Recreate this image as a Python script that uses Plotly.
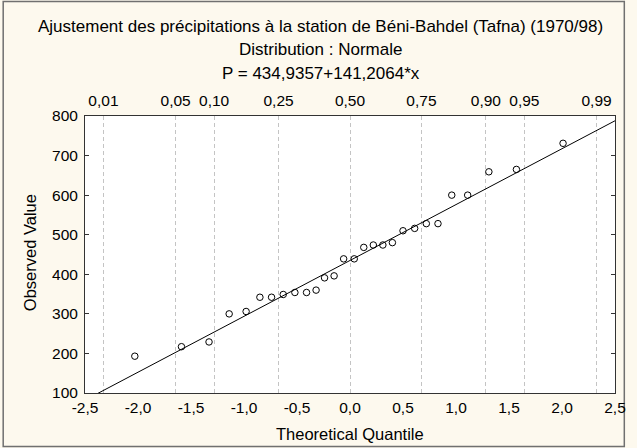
import plotly.graph_objects as go

# Data
theoretical_quantile = [-2.03, -1.59, -1.33, -1.14, -0.98, -0.85, -0.74, -0.63, -0.52, -0.41,
                        -0.32, -0.24, -0.15, -0.06, 0.04, 0.13, 0.22, 0.31, 0.40, 0.50,
                        0.61, 0.72, 0.83, 0.96, 1.11, 1.31, 1.57, 2.01]
observed_value = [193, 217, 229, 300, 306, 342, 342, 349, 354, 354,
                  360, 391, 396, 439, 439, 468, 474, 474, 480, 510,
                  516, 528, 528, 600, 600, 659, 665, 731]

intercept = 434.9357
slope = 141.2064

x_tickvals = [-2.5, -2.0, -1.5, -1.0, -0.5, 0.0, 0.5, 1.0, 1.5, 2.0, 2.5]
x_ticktext = ["-2,5", "-2,0", "-1,5", "-1,0", "-0,5", "0,0", "0,5", "1,0", "1,5", "2,0", "2,5"]
y_tickvals = [100, 200, 300, 400, 500, 600, 700, 800]
prob_labels = ["0,01", "0,05", "0,10", "0,25", "0,50", "0,75", "0,90", "0,95", "0,99"]
prob_quantiles = [-2.326, -1.645, -1.282, -0.674, 0.0, 0.674, 1.282, 1.645, 2.326]

title_lines = ["Ajustement des précipitations à la station de Béni-Bahdel (Tafna) (1970/98)",
               "Distribution : Normale",
               "P = 434,9357+141,2064*x"]

W, H = 637, 448
L, R, T, B = 85, 11, 116, 55
pw, ph = W - L - R, H - T - B

FONT = "Liberation Sans, Arial, sans-serif"


def px_x(p):
    return (p - L) / pw


def px_y(p):
    return 1 + (T - p) / ph


fig = go.Figure()

line_x = [x_tickvals[0], x_tickvals[-1]]
line_y = [intercept + slope * v for v in line_x]
fig.add_trace(go.Scatter(x=line_x, y=line_y, mode="lines",
                         line=dict(color="black", width=1), showlegend=False,
                         hoverinfo="skip"))
fig.add_trace(go.Scatter(x=theoretical_quantile, y=observed_value, mode="markers",
                         marker=dict(symbol="circle-open", size=6.5,
                                     color="black", line=dict(width=1)),
                         showlegend=False))
# invisible trace for top axis
fig.add_trace(go.Scatter(x=line_x, y=line_y, xaxis="x2", mode="lines",
                         line=dict(width=0), opacity=0, showlegend=False,
                         hoverinfo="skip"))

title_y = [27, 50, 73]
annotations = []
for txt, yy in zip(title_lines, title_y):
    annotations.append(dict(text=txt, x=px_x(W / 2 + 7), y=px_y(yy), xref="paper",
                            yref="paper", showarrow=False, xanchor="center",
                            yanchor="middle", font=dict(size=17)))
annotations.append(dict(text="Theoretical Quantile", x=px_x(355), y=px_y(434),
                        xref="paper", yref="paper", showarrow=False,
                        xanchor="center", yanchor="middle", font=dict(size=16.5)))
annotations.append(dict(text="Observed Value", x=px_x(29), y=px_y(253),
                        xref="paper", yref="paper", showarrow=False, textangle=-90,
                        xanchor="center", yanchor="middle", font=dict(size=16.5)))

fig.update_layout(
    width=W, height=H,
    margin=dict(l=L, r=R, t=T, b=B),
    paper_bgcolor="#FDF9EE",
    plot_bgcolor="white",
    font=dict(family=FONT, size=15.5, color="black"),
    xaxis=dict(range=[-2.5, 2.5], tickvals=x_tickvals, ticktext=x_ticktext,
               showgrid=False, zeroline=False, showline=True, linecolor="#333333",
               linewidth=1, mirror=True, ticks="", tickfont=dict(size=15.5)),
    xaxis2=dict(range=[-2.5, 2.5], overlaying="x", side="top",
                tickvals=prob_quantiles, ticktext=prob_labels,
                showgrid=True, gridcolor="#C4C4C4", griddash="4px,3px", gridwidth=1,
                zeroline=False, showline=False, ticks="", ticklabelstandoff=6,
                tickfont=dict(size=15.5)),
    yaxis=dict(range=[100, 800], tickvals=y_tickvals,
               showgrid=False, zeroline=False, showline=True, linecolor="#333333",
               linewidth=1, mirror="ticks", ticks="inside", ticklen=4,
               tickcolor="#333333", ticklabelstandoff=3, tickfont=dict(size=15.5)),
    annotations=annotations,
)

# border around the whole figure
fig.add_shape(type="rect", xref="paper", yref="paper",
              x0=px_x(1.5), x1=px_x(W - 1.5),
              y0=px_y(H - 1.5), y1=px_y(1.5),
              line=dict(color="#707070", width=1.5), layer="below")

fig.write_html("out.html", config={"displayModeBar": False},
               post_script="document.body.style.margin='0';")
